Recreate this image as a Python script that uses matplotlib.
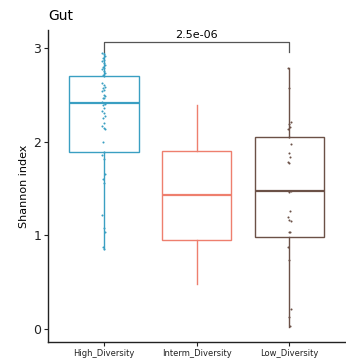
import matplotlib
matplotlib.use('Agg')
import matplotlib.pyplot as plt
import numpy as np

groups = ['High_Diversity', 'Interm_Diversity', 'Low_Diversity']
colors = ['#3A9FC2', '#EE7F6E', '#6B5147']

# box statistics
whislo = [0.85, 0.48, 0.02]
q1 = [1.89, 0.95, 0.98]
med = [2.41, 1.43, 1.47]
q3 = [2.70, 1.90, 2.05]
whishi = [2.95, 2.39, 2.79]

# sample points
high_pts = [2.95, 2.93, 2.91, 2.89, 2.87, 2.86, 2.84, 2.82, 2.80, 2.79, 2.77, 2.75, 2.73, 2.71, 2.70,
            2.62, 2.60, 2.58, 2.57, 2.55, 2.54, 2.50, 2.49, 2.47, 2.46, 2.42, 2.41, 2.40, 2.39,
            2.36, 2.33, 2.30, 2.27, 2.25, 2.20, 2.17, 2.15, 2.13, 2.00, 1.89,
            1.86, 1.81, 1.65, 1.60, 1.56, 1.22, 1.08, 1.03, 0.87, 0.85]
low_pts = [2.79, 2.57, 2.21, 2.19, 2.16, 2.13, 2.05, 1.97, 1.88, 1.84, 1.78, 1.77, 1.47, 1.46,
           1.26, 1.20, 1.16, 1.15, 1.04, 1.03, 0.88, 0.74, 0.21, 0.13, 0.03]
pvalue = '2.5e-06'

fig = plt.figure(figsize=(3.46, 3.62), dpi=100)
ax = fig.add_axes([0.139, 0.055, 0.858, 0.862])

stats = []
for i in range(3):
    stats.append({'whislo': whislo[i], 'q1': q1[i], 'med': med[i], 'q3': q3[i], 'whishi': whishi[i]})
bp = ax.bxp(stats, positions=[1, 2, 3], widths=0.75, showfliers=False, patch_artist=True, showcaps=False)
for i, c in enumerate(colors):
    bp['boxes'][i].set(facecolor='white', edgecolor=c, linewidth=1.0)
    bp['medians'][i].set(color=c, linewidth=1.6)
    for w in bp['whiskers'][2 * i:2 * i + 2]:
        w.set(color=c, linewidth=1.0)

for pos, pts, c in [(1, high_pts, colors[0]), (3, low_pts, colors[2])]:
    offs = np.array([((k * 7) % 5 - 2) * 0.008 for k in range(len(pts))])
    ax.scatter(pos + offs, pts, s=2.2, color=c, zorder=3, linewidths=0)

# significance bracket
ax.plot([1, 1, 3, 3], [2.96, 3.06, 3.06, 2.96], color='#555555', lw=0.9)
ax.text(2, 3.08, pvalue, ha='center', va='bottom', fontsize=8)

ax.set_xlim(0.4, 3.6)
ax.set_ylim(-0.14, 3.19)
ax.set_xticks([1, 2, 3])
ax.set_xticklabels(groups, fontsize=6)
ax.set_yticks([0, 1, 2, 3])
ax.set_yticklabels(['0', '1', '2', '3'], fontsize=9)
ax.set_ylabel('Shannon index', fontsize=8, labelpad=3)
for s in ['left', 'bottom']:
    ax.spines[s].set_linewidth(1.0)
    ax.spines[s].set_color('#222222')
ax.spines['top'].set_visible(False)
ax.spines['right'].set_visible(False)
ax.tick_params(length=3, width=0.8, pad=2, colors='#222222')
fig.text(0.139, 0.955, 'Gut', fontsize=10, va='center')

fig.savefig('out.png', dpi=100)
